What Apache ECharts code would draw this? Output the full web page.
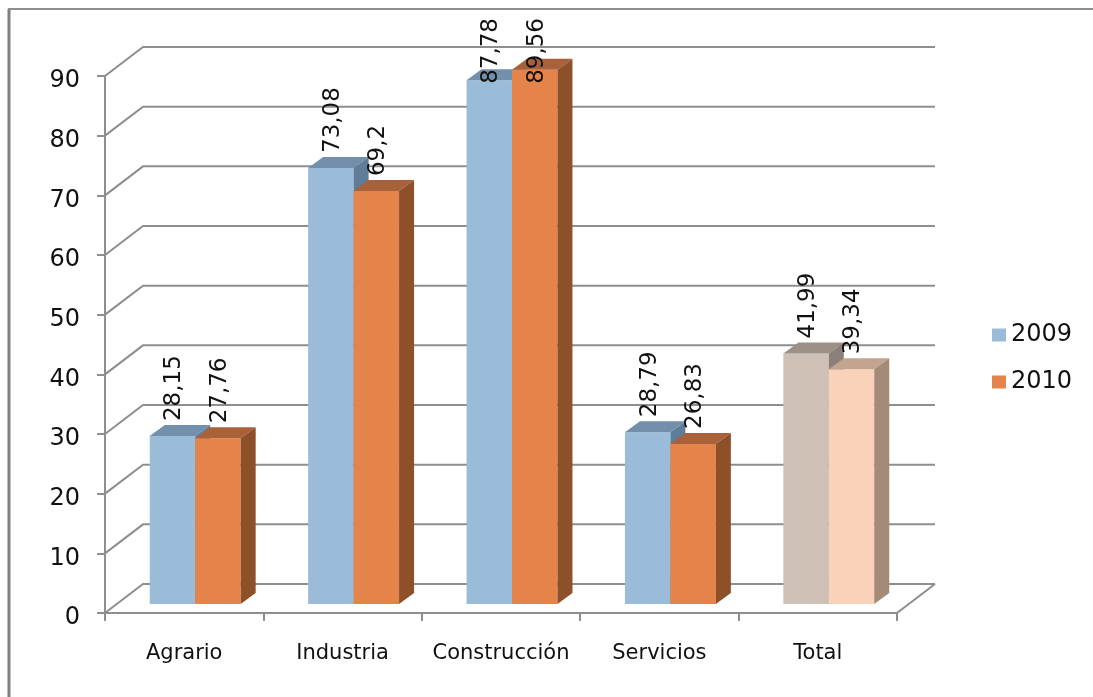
<!DOCTYPE html>
<html><head><meta charset="utf-8">
<style>html,body{margin:0;padding:0;background:#fff}#c{width:1093px;height:697px}</style>
<script src="https://cdn.jsdelivr.net/npm/echarts@6/dist/echarts.min.js"></script>
</head><body><div id="c"></div>
<script>
var categories = ['Agrario','Industria','Construcción','Servicios','Total'];
var values2009 = [28.15,73.08,87.78,28.79,41.99];
var values2010 = [27.76,69.2,89.56,26.83,39.34];
var labels2009 = ['28,15','73,08','87,78','28,79','41,99'];
var labels2010 = ['27,76','69,2','89,56','26,83','39,34'];
var yTicks = [0,10,20,30,40,50,60,70,80,90];

var FONT = '"DejaVu Sans"', GRID = '#8e8e8e';
var palette2009 = {front:'#9bbcd9', top:'#7290ab', side:'#5f7d98'};
var palette2010 = {front:'#e5844a', top:'#a9613a', side:'#8e5029'};
var paletteT09 = {front:'#cfc0b6', top:'#9c9087', side:'#8a8079'};
var paletteT10 = {front:'#f9d2b9', top:'#c3a48e', side:'#a48a77'};

function wall(params, api){
  var v = api.value(1), cs = params.coordSys;
  var y = api.coord([0, v])[1], x0 = cs.x, x1 = cs.x + cs.width;
  var dx = 38, dy = -29;
  var children = [{type:'polyline', shape:{points:[[x0,y],[x0+dx,y+dy],[x1+dx,y+dy]]},
    style:{stroke:GRID, lineWidth:2, fill:null}}];
  if (v === 0) children.push({type:'line', shape:{x1:x1,y1:y,x2:x1+dx,y2:y+dy}, style:{stroke:GRID,lineWidth:2}});
  return {type:'group', children:children};
}
function barSeries(name, vals, labels, pal, palTotal, side){
  return {
    name:name, type:'custom', coordinateSystem:'cartesian2d', itemStyle:{color:pal.front}, clip:false,
    data: vals.map(function(v,i){return [i,v];}),
    renderItem:function(params, api){
      var i = api.value(0), v = api.value(1);
      var band = api.size([1,0])[0], w = band*0.287;
      var c = api.coord([i,v]), b = api.coord([i,0]);
      var p = i === categories.length-1 ? palTotal : pal;
      var x = c[0] + 11 + (side === 0 ? -w : 0), yT = c[1]-9, yB = b[1]-9;
      var dx = 15, dy = -11;
      var ty = yT - 15, clampTop = 18;
      var lenEst = labels[i].length > 4 ? 66 : 49;
      var over = ty - lenEst < clampTop;
      return {type:'group', children:[
        {type:'rect', shape:{x:x,y:yT,width:w,height:yB-yT}, style:{fill:p.front}},
        {type:'polygon', shape:{points:[[x,yT],[x+dx,yT+dy],[x+w+dx,yT+dy],[x+w,yT]]}, style:{fill:p.top}},
        {type:'polygon', shape:{points:[[x+w,yT],[x+w+dx,yT+dy],[x+w+dx,yB+dy],[x+w,yB]]}, style:{fill:p.side}},
        {type:'text', z2:100, rotation:Math.PI/2, x:x+w/2+2, y:over?clampTop:ty,
         style:{text:labels[i], fill:'#111', font:'23px '+FONT, align:over?'right':'left', verticalAlign:'middle'}}
      ]};
    }
  };
}
var chart = echarts.init(document.getElementById('c'), null, {renderer:'canvas'});
chart.setOption({
  animation:false, backgroundColor:'#fff',
  graphic:[
    {type:'line', shape:{x1:9,y1:9,x2:9,y2:697}, style:{stroke:'#7f7f7f',lineWidth:3}, silent:true},
    {type:'line', shape:{x1:8,y1:9,x2:1093,y2:9}, style:{stroke:'#8f8f8f',lineWidth:2}, silent:true}
  ],
  legend:{data:['2009','2010'], orient:'vertical', left:987, top:318, itemWidth:14, itemHeight:13, itemGap:23,
    icon:'rect', textStyle:{fontFamily:FONT, fontSize:24, color:'#111'}},
  grid:{left:105, right:196, top:76, bottom:84},
  xAxis:{type:'category', data:categories,
    axisLine:{lineStyle:{color:GRID,width:2}}, axisTick:{show:true,interval:0,length:8,lineStyle:{color:GRID,width:2}},
    axisLabel:{interval:0,fontFamily:FONT,fontSize:21,fontWeight:500,color:'#111',margin:30}},
  yAxis:{type:'value', min:0, max:90, interval:10,
    axisLine:{show:true,lineStyle:{color:GRID,width:2}}, axisTick:{show:true,length:8,lineStyle:{color:GRID,width:2}},
    splitLine:{show:false}, axisLabel:{margin:25, formatter:'{a|{value}}',
      rich:{a:{fontFamily:FONT,fontSize:24,color:'#111',padding:[10,0,0,0]}}}},
  series:[
    {type:'custom', coordinateSystem:'cartesian2d', silent:true, clip:false, data:yTicks.map(function(v){return [0,v];}), renderItem:wall},
    barSeries('2009', values2009, labels2009, palette2009, paletteT09, 0),
    barSeries('2010', values2010, labels2010, palette2010, paletteT10, 1)
  ]
});
</script></body></html>
